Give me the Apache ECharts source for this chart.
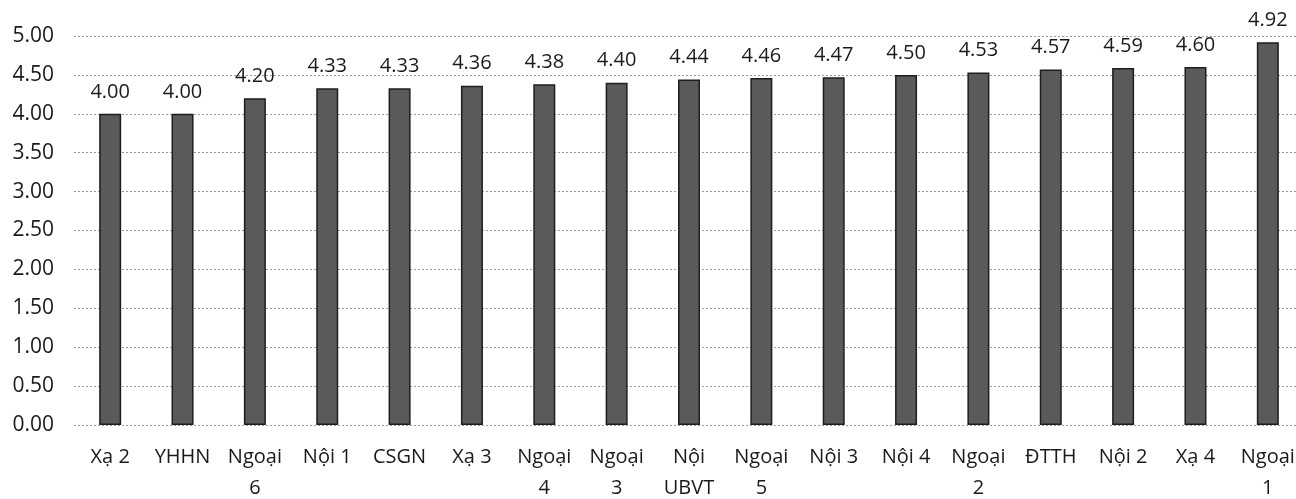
<!DOCTYPE html>
<html>
<head>
<meta charset="utf-8">
<script src="https://cdn.jsdelivr.net/npm/echarts@6/dist/echarts.min.js"></script>
<style>
  html, body { margin: 0; padding: 0; background: #fff; }
  #chart { width: 1296px; height: 499px; }
</style>
</head>
<body>
<div id="chart"></div>
<script>
// categories (line breaks as in the picture)
var categories = ['Xạ 2', 'YHHN', 'Ngoại\n6', 'Nội 1', 'CSGN', 'Xạ 3', 'Ngoại\n4', 'Ngoại\n3',
  'Nội\nUBVT', 'Ngoại\n5', 'Nội 3', 'Nội 4', 'Ngoại\n2', 'ĐTTH', 'Nội 2', 'Xạ 4', 'Ngoại\n1'];
var scores = [4.00, 4.00, 4.20, 4.33, 4.33, 4.36, 4.38, 4.40, 4.44, 4.46, 4.47, 4.50, 4.53, 4.57, 4.59, 4.60, 4.92];
var yTicks = { min: 0, max: 5, interval: 0.5 };

var fontFam = '"Open Sans", "Noto Sans", sans-serif';
var chart = echarts.init(document.getElementById('chart'));
chart.setOption({
  animation: false,
  grid: { left: 74, right: -8, top: 36, bottom: 74, containLabel: false, outerBoundsMode: 'none' },
  xAxis: {
    type: 'category',
    data: categories,
    axisLine: { show: false },
    axisTick: { show: false },
    axisLabel: {
      interval: 0,
      margin: 17,
      color: '#1a1a1a',
      fontFamily: fontFam,
      fontSize: 20,
      lineHeight: 31
    }
  },
  yAxis: {
    type: 'value',
    min: yTicks.min,
    max: yTicks.max,
    interval: yTicks.interval,
    axisLine: { show: false },
    axisTick: { show: false },
    axisLabel: {
      margin: 20,
      color: '#1a1a1a',
      fontFamily: fontFam,
      fontSize: 21,
      formatter: function (v) { return v.toFixed(2); }
    },
    splitLine: { lineStyle: { color: '#9a9a9a', type: [2, 2], width: 1 } }
  },
  series: [{
    type: 'bar',
    data: scores,
    barWidth: 22,
    itemStyle: { color: '#5a5a5a', borderColor: '#1e1e1e', borderWidth: 1.5 },
    label: {
      show: true,
      position: 'top',
      distance: 12,
      color: '#1a1a1a',
      fontFamily: fontFam,
      fontSize: 20,
      formatter: function (p) { return p.value.toFixed(2); }
    }
  }]
});
</script>
</body>
</html>
